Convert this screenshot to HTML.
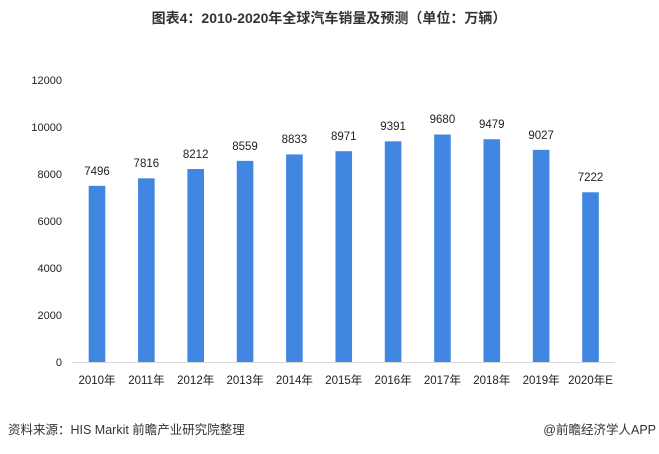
<!DOCTYPE html><html><head><meta charset="utf-8"><style>
body{margin:0;width:659px;height:449px;background:#fff;overflow:hidden;font-family:"Liberation Sans","Noto Sans CJK SC",sans-serif;}
</style></head><body>
<svg width="659" height="449" xmlns="http://www.w3.org/2000/svg" font-family="Liberation Sans, Noto Sans CJK SC, sans-serif">
<text x="329" y="23" text-anchor="middle" font-size="14" font-weight="bold" fill="#333">图表4：2010-2020年全球汽车销量及预测（单位：万辆）</text>
<g font-size="11" fill="#222" text-anchor="end">
<text x="62" y="84">12000</text><text x="62" y="131">10000</text><text x="62" y="178">8000</text><text x="62" y="225">6000</text><text x="62" y="272">4000</text><text x="62" y="319">2000</text><text x="62" y="366">0</text>
</g>
<line x1="72" y1="362.5" x2="615" y2="362.5" stroke="#d9d9d9" stroke-width="1"/>
<g fill="#4187e2">
<rect x="88.7" y="185.84" width="16.6" height="176.16"/>
<rect x="138.05" y="178.32" width="16.6" height="183.68"/>
<rect x="187.4" y="169.02" width="16.6" height="192.98"/>
<rect x="236.75" y="160.86" width="16.6" height="201.14"/>
<rect x="286.1" y="154.42" width="16.6" height="207.58"/>
<rect x="335.45" y="151.18" width="16.6" height="210.82"/>
<rect x="384.8" y="141.31" width="16.6" height="220.69"/>
<rect x="434.15" y="134.52" width="16.6" height="227.48"/>
<rect x="483.5" y="139.24" width="16.6" height="222.76"/>
<rect x="532.85" y="149.87" width="16.6" height="212.13"/>
<rect x="582.2" y="192.28" width="16.6" height="169.72"/>
</g>
<g font-size="11.5" fill="#222" text-anchor="middle">
<text x="97" y="175">7496</text>
<text x="146.35" y="167">7816</text>
<text x="195.7" y="158">8212</text>
<text x="245.05" y="150">8559</text>
<text x="294.4" y="143">8833</text>
<text x="343.75" y="140">8971</text>
<text x="393.1" y="130">9391</text>
<text x="442.45" y="123">9680</text>
<text x="491.8" y="128">9479</text>
<text x="541.15" y="139">9027</text>
<text x="590.5" y="181">7222</text>
</g>
<g font-size="11.5" fill="#222" text-anchor="middle">
<text x="97" y="384">2010年</text>
<text x="146.35" y="384">2011年</text>
<text x="195.7" y="384">2012年</text>
<text x="245.05" y="384">2013年</text>
<text x="294.4" y="384">2014年</text>
<text x="343.75" y="384">2015年</text>
<text x="393.1" y="384">2016年</text>
<text x="442.45" y="384">2017年</text>
<text x="491.8" y="384">2018年</text>
<text x="541.15" y="384">2019年</text>
<text x="590.5" y="384">2020年E</text>
</g>
<text x="8" y="434" font-size="12.5" fill="#333">资料来源：HIS Markit 前瞻产业研究院整理</text>
<text x="656" y="434" font-size="12.5" fill="#333" text-anchor="end">@前瞻经济学人APP</text>
</svg>
</body></html>
